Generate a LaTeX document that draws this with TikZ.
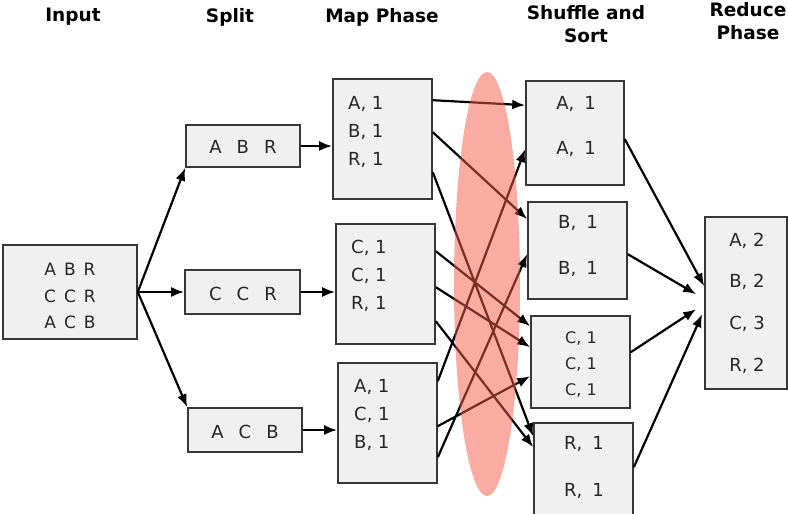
\documentclass[tikz,border=0pt]{standalone}
\usepackage{fontspec}
\setmainfont{DejaVu Sans}
\usetikzlibrary{arrows.meta,calc}

\definecolor{boxfill}{RGB}{240,240,240}
\definecolor{boxline}{RGB}{55,55,55}
\definecolor{shufred}{RGB}{245,90,70}

\tikzset{
  box/.style={draw=boxline, fill=boxfill, line width=1.6pt, inner sep=0pt},
  lbl/.style={font=\fontsize{18}{28}\selectfont, text=black!85, align=left, inner sep=0pt},
  head/.style={font=\bfseries\fontsize{18.5}{23}\selectfont, align=center, inner sep=0pt},
  arr/.style={-{Latex[length=13pt,width=10pt]}, line width=2.2pt},
}
\newcommand{\pair}[2]{#1,\hspace{10pt}#2}

\begin{document}
\begin{tikzpicture}[x=1pt,y=-1pt]
\useasboundingbox (0,0) rectangle (788,514);

% column titles
\node[head] (h-in) at (73,17) {Input};
\node[head] (h-sp) at (230,17) {Split};
\node[head] (h-mp) at (382,17) {Map Phase};
\node[head] (h-sh) at (586,24) {Shuffle and\\Sort};
\node[head] (h-rd) at (748,21) {Reduce\\Phase};

% boxes
\node[box, minimum width=134pt, minimum height=94pt] (in) at (70,292) {};
\node[box, minimum width=114pt, minimum height=42pt] (sp1) at (243,146) {};
\node[box, minimum width=115pt, minimum height=44pt] (sp2) at (242.5,292) {};
\node[box, minimum width=114pt, minimum height=44pt] (sp3) at (245,430) {};
\node[box, minimum width=99pt, minimum height=120pt] (mp1) at (382.5,139) {};
\node[box, minimum width=99pt, minimum height=120pt] (mp2) at (385.5,284) {};
\node[box, minimum width=99pt, minimum height=120pt] (mp3) at (387.5,423) {};
\node[box, minimum width=98pt, minimum height=104pt] (sh1) at (575,133) {};
\node[box, minimum width=99pt, minimum height=97pt] (sh2) at (577.5,250.5) {};
\node[box, minimum width=99pt, minimum height=92pt] (sh3) at (580.5,362) {};
\node[box, minimum width=99pt, minimum height=107pt] (sh4) at (583.5,476.5) {};
\node[box, minimum width=82pt, minimum height=172pt] (rd) at (746,303) {};

% texts
\node[lbl, font=\fontsize{17}{26.5}\selectfont, align=center] (t-in) at (70,296)
  {A\hspace{8pt}B\hspace{8pt}R\\C\hspace{8pt}C\hspace{8pt}R\\A\hspace{8pt}C\hspace{8pt}B};
\node[lbl, font=\fontsize{18}{20}\selectfont] (t-sp1) at (243,147) {A\hspace{15pt}B\hspace{15pt}R};
\node[lbl, font=\fontsize{18}{20}\selectfont] (t-sp2) at (243,294) {C\hspace{15pt}C\hspace{15pt}R};
\node[lbl, font=\fontsize{18}{20}\selectfont] (t-sp3) at (245,432) {A\hspace{15pt}C\hspace{15pt}B};
\node[lbl, anchor=west] (t-mp1) at (348,132) {A, 1\\B, 1\\R, 1};
\node[lbl, anchor=west] (t-mp2) at (351,276) {C, 1\\C, 1\\R, 1};
\node[lbl, anchor=west] (t-mp3) at (354,415) {A, 1\\C, 1\\B, 1};
\node[lbl, font=\fontsize{18}{45}\selectfont, align=center] (t-sh1) at (576,126) {\pair{A}{1}\\\pair{A}{1}};
\node[lbl, font=\fontsize{18}{46}\selectfont, align=center] (t-sh2) at (578,246) {\pair{B}{1}\\\pair{B}{1}};
\node[lbl, font=\fontsize{16}{26}\selectfont, align=center] (t-sh3) at (581,364) {C, 1\\C, 1\\C, 1};
\node[lbl, font=\fontsize{18}{47}\selectfont, align=center] (t-sh4) at (584,467) {\pair{R}{1}\\\pair{R}{1}};
\node[lbl, font=\fontsize{18}{41.7}\selectfont, align=center] (t-rd) at (747,303) {A, 2\\B, 2\\C, 3\\R, 2};

% input to split
\draw[arr] (in.east) -- (sp1.south west);
\draw[arr] (in.east) -- (sp2.west);
\draw[arr] (in.east) -- (sp3.north west);

% split to map
\draw[arr] (sp1.east) -- (sp1.east -| mp1.west);
\draw[arr] (sp2.east) -- (sp2.east -| mp2.west);
\draw[arr] (sp3.east) -- (sp3.east -| mp3.west);

% map to shuffle
\draw[arr] ($(mp1.north east)+(0,22)$) -- ($(sh1.north west)+(0,25)$);
\draw[arr] ($(mp1.north east)+(0,54)$) -- ($(sh2.north west)+(0,18)$);
\draw[arr] ($(mp1.north east)+(0,94)$) -- ($(sh4.north west)+(0,14)$);
\draw[arr] ($(mp2.north east)+(0,28)$) -- ($(sh3.north west)+(0,11)$);
\draw[arr] ($(mp2.north east)+(0,64)$) -- ($(sh3.north west)+(0,32)$);
\draw[arr] ($(mp2.north east)+(0,98)$) -- ($(sh4.north west)+(0,25)$);
\draw[arr] ($(mp3.north east)+(0,19)$) -- ($(sh1.north west)+(0,69)$);
\draw[arr] ($(mp3.north east)+(0,64)$) -- ($(sh3.north west)+(0,61)$);
\draw[arr] ($(mp3.north east)+(0,95)$) -- ($(sh2.north west)+(0,53)$);

% shuffle to reduce
\draw[arr] ($(sh1.north east)+(0,59)$) -- ($(rd.north west)+(0,70)$);
\draw[arr] ($(sh2.north east)+(0,53)$) -- ($(rd.north west)+(-8,78)$);
\draw[arr] ($(sh3.north east)+(0,37)$) -- ($(rd.north west)+(-8,93)$);
\draw[arr] ($(sh4.north east)+(0,45)$) -- ($(rd.north west)+(-2,98)$);

% shuffle band
\fill[shufred, opacity=0.5] (487,284) ellipse (33 and 212);
\end{tikzpicture}
\end{document}
